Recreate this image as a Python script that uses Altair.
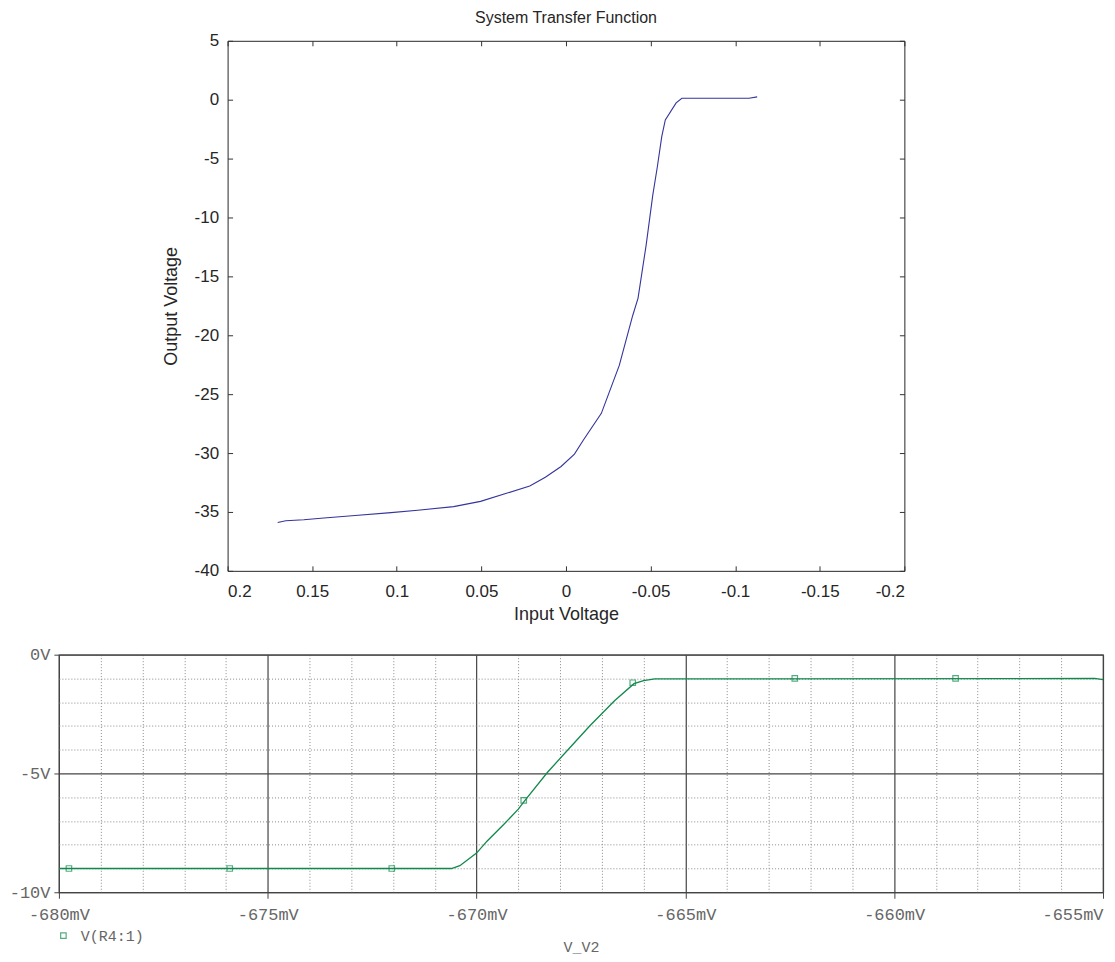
import altair as alt
import pandas as pd

# ---- top chart data (MATLAB-style transfer function) ----
top_x = [0.1704, 0.1656, 0.155, 0.1431, 0.1246, 0.1034, 0.0876, 0.0664, 0.0505, 0.0347,
         0.0214, 0.0122, 0.0029, -0.005, -0.0103, -0.0209, -0.0315, -0.0394, -0.0426,
         -0.0474, -0.0513, -0.054, -0.0566, -0.0587, -0.0651, -0.0685, -0.1082, -0.113]
top_y = [-35.9, -35.75, -35.66, -35.51, -35.3, -35.06, -34.85, -34.55, -34.1, -33.4,
         -32.8, -32.05, -31.14, -30.09, -28.89, -26.63, -22.56, -18.34, -16.84,
         -12.32, -8.1, -5.69, -3.13, -1.72, -0.27, 0.12, 0.12, 0.24]
top_xticks = [0.2, 0.15, 0.1, 0.05, 0, -0.05, -0.1, -0.15, -0.2]
top_yticks = [-40, -35, -30, -25, -20, -15, -10, -5, 0, 5]

# ---- bottom chart data (PSpice-style sweep) ----
bot_x = [-680, -670.6, -670.4, -670.0, -669.75, -669.35, -669.0, -668.85, -668.3, -667.8,
         -667.28, -666.69, -666.23, -666.0, -665.73, -655.2, -655]
bot_y = [-9, -9, -8.88, -8.35, -7.85, -7.15, -6.5, -6.15, -4.95, -3.98,
         -2.98, -1.93, -1.22, -1.09, -1.02, -1.0, -1.05]
mark_x = [-679.76, -675.91, -672.03, -668.87, -666.26, -662.38, -658.53]
mark_y = [-9, -9, -9, -6.13, -1.18, -1, -1]
bot_xticks = list(range(-680, -654))
bot_yticks = list(range(-10, 1))
series_name = "V(R4:1)"

SANS = "Liberation Sans"
MONO = "Liberation Mono"
BLUE = "#34349c"
GREEN = "#10894c"
GRAY = "#666666"

top_df = pd.DataFrame({"x": top_x, "y": top_y, "i": range(len(top_x))})

xs = alt.Scale(domain=[0.2, -0.2], nice=False, zero=False)
ys = alt.Scale(domain=[-40, 5], nice=False, zero=False)

top_main = alt.Chart(top_df).mark_line(color=BLUE, strokeWidth=1.1).encode(
    x=alt.X("x:Q", scale=xs, title="Input Voltage",
            axis=alt.Axis(values=top_xticks, labelExpr="toString(datum.value)",
                          offset=-5, tickSize=5, tickColor="#333", domain=False, grid=False,
                          labelFont=SANS, labelFontSize=17, labelColor="#262626",
                          labelPadding=13, labelOverlap=False,
                          titleFont=SANS, titleFontSize=18, titleFontWeight="normal",
                          titleColor="#262626", titlePadding=6)),
    y=alt.Y("y:Q", scale=ys, title="Output Voltage",
            axis=alt.Axis(values=top_yticks, labelExpr="toString(datum.value)",
                          offset=-5, tickSize=5, tickColor="#333", domain=False, grid=False,
                          labelFont=SANS, labelFontSize=17, labelColor="#262626",
                          labelPadding=9, labelOverlap=False,
                          titleFont=SANS, titleFontSize=18, titleFontWeight="normal",
                          titleColor="#262626", titlePadding=14)),
    order="i:Q",
)

top_mirror = alt.Chart(top_df).mark_line(opacity=0).encode(
    x=alt.X("x:Q", scale=xs, title=None,
            axis=alt.Axis(orient="top", values=top_xticks, labels=False, offset=-5,
                          tickSize=5, tickColor="#333", domain=False, grid=False)),
    y=alt.Y("y:Q", scale=ys, title=None,
            axis=alt.Axis(orient="right", values=top_yticks, labels=False, offset=-5,
                          tickSize=5, tickColor="#333", domain=False, grid=False)),
    order="i:Q",
)

top = alt.layer(top_main, top_mirror).resolve_axis(x="independent", y="independent").properties(
    width=678, height=531,
    title=alt.TitleParams("System Transfer Function", font=SANS, fontSize=16,
                          fontWeight="normal", color="#262626", offset=6),
    view=alt.ViewBackground(stroke="#262626", strokeWidth=1),
)

spacer = alt.Chart(pd.DataFrame({"a": [0]})).mark_point(opacity=0).properties(
    width=102, height=10, view=alt.ViewBackground(stroke=None))

# ---- bottom chart ----
bot_df = pd.DataFrame({"x": bot_x, "y": bot_y, "i": range(len(bot_x))})
mk_df = pd.DataFrame({"x": mark_x, "y": mark_y, "s": [series_name] * len(mark_x)})

bxs = alt.Scale(domain=[-680, -655], nice=False, zero=False)
bys = alt.Scale(domain=[-10, 0], nice=False, zero=False)

major = "abs(datum.value % 5) < 0.001"
grid_color = {"condition": {"test": major, "value": "#444444"}, "value": "#8a8a8a"}
grid_dash = {"condition": {"test": major, "value": [1, 0]}, "value": [1, 2]}
grid_w = {"condition": {"test": major, "value": 1.2}, "value": 1}
tick_op = {"condition": {"test": major, "value": 1}, "value": 0}

bx_axis = alt.Axis(values=bot_xticks, grid=True, gridColor=grid_color,
                   gridDash=grid_dash, gridWidth=grid_w, tickOpacity=tick_op,
                   tickSize=6, tickColor="#444", domain=False,
                   labelExpr=f"{major} ? toString(datum.value) + 'mV' : ''",
                   labelAlign=alt.expr("datum.value == -655 ? 'right' : 'center'"),
                   labelOverlap=False, labelFont=MONO, labelFontSize=17,
                   labelColor=GRAY, labelPadding=8,
                   titleFont=MONO, titleFontSize=15, titleFontWeight="normal",
                   titleColor=GRAY, titlePadding=17)
by_axis = alt.Axis(values=bot_yticks, grid=True, gridColor=grid_color,
                   gridDash=grid_dash, gridWidth=grid_w, tickOpacity=tick_op,
                   tickSize=5, tickColor="#444", domain=False,
                   labelExpr=f"{major} ? toString(datum.value) + 'V' : ''",
                   labelOverlap=False, labelFont=MONO, labelFontSize=17,
                   labelColor=GRAY, labelPadding=4)

bot_line = alt.Chart(bot_df).mark_line(color=GREEN, strokeWidth=1.3).encode(
    x=alt.X("x:Q", scale=bxs, title="V_V2", axis=bx_axis),
    y=alt.Y("y:Q", scale=bys, title=None, axis=by_axis),
    order="i:Q",
)

bot_marks = alt.Chart(mk_df).mark_point(shape="square", filled=False, size=30,
                                        strokeWidth=1.2).encode(
    x=alt.X("x:Q", scale=bxs, title="V_V2", axis=bx_axis),
    y=alt.Y("y:Q", scale=bys, title=None, axis=by_axis),
    color=alt.Color("s:N", scale=alt.Scale(range=[GREEN]),
                    legend=alt.Legend(title=None, orient="none", legendX=-3, legendY=36 + 238,
                                      symbolType="square", symbolSize=30,
                                      symbolStrokeWidth=1.2, labelFont=MONO,
                                      labelFontSize=15, labelColor=GRAY, labelOffset=10)),
)

bottom = alt.layer(bot_line, bot_marks).properties(
    width=1046, height=238,
    view=alt.ViewBackground(stroke="#444444", strokeWidth=1.2),
)

chart = alt.vconcat(
    alt.hconcat(spacer, top, spacing=0),
    bottom,
    spacing=20,
).resolve_scale(color="independent").properties(
    padding={"left": 0, "top": 0, "right": 0, "bottom": 0}
).configure_view(stroke=None)

chart.save("out.html", embed_options={"renderer": "svg", "actions": False})
